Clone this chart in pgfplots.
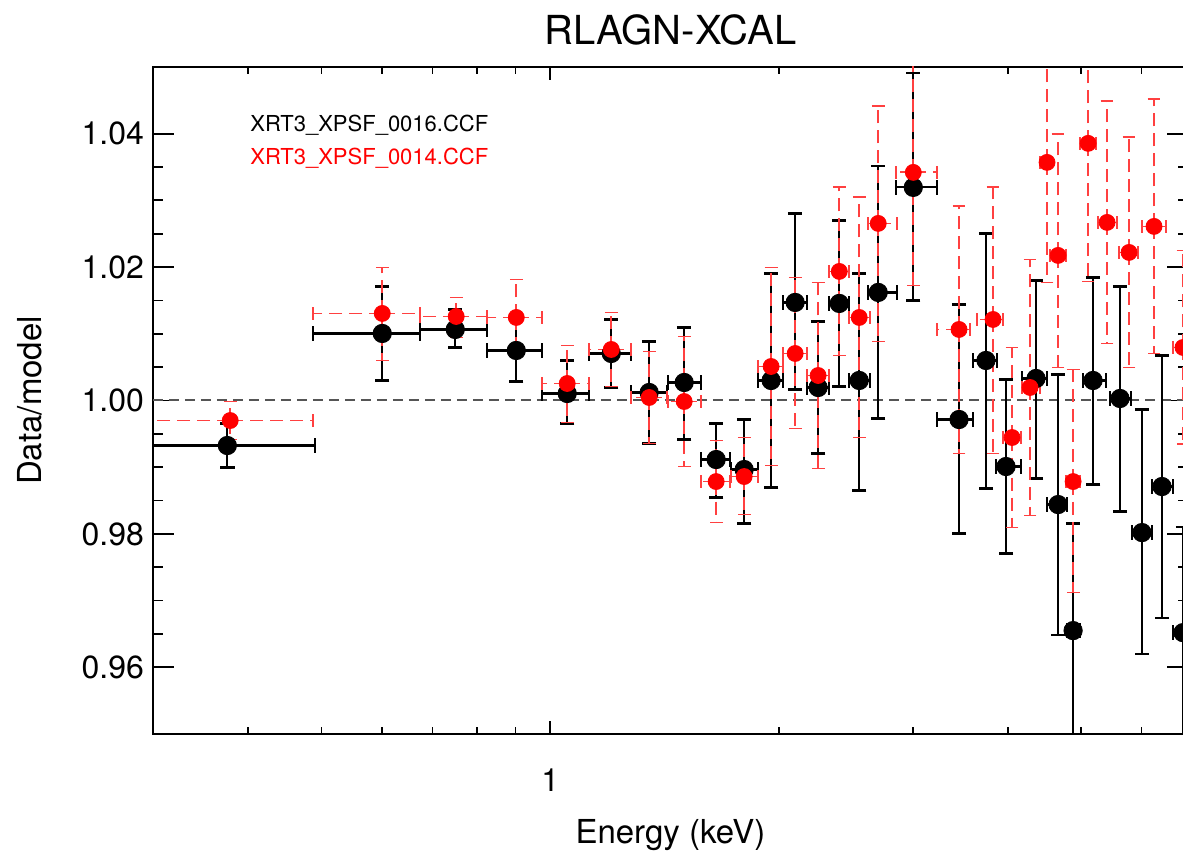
\documentclass[border=0pt]{standalone}
\usepackage{fontspec}
\setmainfont{TeX Gyre Heros}
\usepackage{pgfplots}
\pgfplotsset{compat=1.18}
\usepackage{pgfplotstable}

% columns: energy, ratio, energy bin low/high, ratio low/high
\pgfplotstableread{
x y xlo xhi ylo yhi
0.3758 0.99325 0.28 0.4907 0.98995 0.99655
0.6010 1.01005 0.4878 0.6744 1.0030 1.0171
0.7499 1.01065 0.6744 0.8264 1.00795 1.01365
0.9022 1.0075 0.8264 0.9760 1.00285 1.01215
1.0528 1.00105 0.9760 1.1254 0.99655 1.0060
1.2031 1.00705 1.1254 1.2782 1.00195 1.01215
1.3497 1.0012 1.2782 1.4256 0.99355 1.00885
1.5008 1.0027 1.4299 1.5800 0.99415 1.01095
1.6536 0.99115 1.5800 1.7252 0.98545 0.99655
1.8000 0.98965 1.7304 1.8781 0.98155 0.99715
1.9535 1.0030 1.8781 2.0258 0.98695 1.01905
2.1008 1.0147 2.0258 2.1785 1.00165 1.02805
2.2523 1.00195 2.1785 2.3286 0.99205 1.01185
2.4014 1.01455 2.3286 2.4752 1.0021 1.0270
2.5510 1.0030 2.4752 2.6373 0.9865 1.01905
2.7022 1.0162 2.6214 2.8622 0.9973 1.0351
3.0053 1.03195 2.8535 3.2301 1.0150 1.04905
3.4523 0.99715 3.2301 3.6019 0.98005 1.0144
3.7466 1.0060 3.6019 3.8736 0.9868 1.02505
3.9811 0.9901 3.8619 4.1660 0.97705 1.00315
4.3596 1.0033 4.1786 4.5073 0.9883 1.0180
4.6608 0.9844 4.5073 4.7895 0.9649 1.0039
4.8778 0.9655 4.7895 4.9823 0.9400 0.98155
5.1823 1.0030 5.0278 5.3905 0.9874 1.01845
5.6234 1.0003 5.4562 5.8141 0.98335 1.0171
6.0110 0.9802 5.8318 6.1960 0.96205 0.99865
6.3869 0.9871 6.1960 6.6035 0.96745 1.00675
6.8060 0.9652 6.6035 7.0 0.9500 0.9810
}\newccf

\pgfplotstableread{
x y xlo xhi ylo yhi
0.3792 0.9970 0.28 0.4878 0.99415 0.99985
0.6010 1.01305 0.4878 0.6744 1.0060 1.01995
0.7521 1.0126 0.6744 0.8264 1.00945 1.01545
0.9022 1.01245 0.8264 0.9760 1.00675 1.01815
1.0528 1.00255 0.9760 1.1254 0.9967 1.00825
1.2031 1.00765 1.1254 1.2782 1.0021 1.0132
1.3497 1.00045 1.2782 1.4256 0.99355 1.00735
1.5008 0.99985 1.4299 1.5800 0.9901 1.0096
1.6536 0.98785 1.5800 1.7252 0.9817 0.9940
1.8000 0.9886 1.7304 1.8781 0.9829 0.99445
1.9535 1.0051 1.8781 2.0258 0.99025 1.01995
2.1008 1.00705 2.0258 2.1785 0.9958 1.01845
2.2523 1.00375 2.1785 2.3286 0.9898 1.0177
2.4014 1.01935 2.3286 2.4752 1.00675 1.03195
2.5510 1.01245 2.4752 2.6373 0.99445 1.03045
2.7022 1.02655 2.6214 2.8622 1.00885 1.0441
3.0053 1.0342 2.8535 3.2301 1.01725 1.05115
3.4523 1.01065 3.2301 3.5693 0.99205 1.0291
3.8269 1.01215 3.6458 3.9449 0.99205 1.03195
4.0540 0.99445 3.9449 4.1660 0.98095 1.00795
4.2811 1.00195 4.1786 4.4128 0.98275 1.02115
4.5073 1.0357 4.4128 4.5484 1.0177 1.0540
4.6608 1.02175 4.5484 4.7751 1.00495 1.0399
4.8778 0.98785 4.7751 4.9823 0.9712 1.00465
5.1044 1.03855 4.9823 5.2297 1.01785 1.0590
5.4068 1.0267 5.2614 5.5732 1.00855 1.04485
5.7790 1.0222 5.6071 5.9387 1.00495 1.03945
6.2337 1.0261 6.0110 6.4648 1.00705 1.04515
6.8060 1.00795 6.6035 7.0 0.9935 1.0225
}\oldccf

\definecolor{refgray}{HTML}{555555}

\begin{document}
\begin{tikzpicture}
\begin{axis}[
    scale only axis,
    width=517.5pt, height=333.5pt,
    xmode=log,
    xmin=0.3, xmax=6.91,
    ymin=0.95, ymax=1.05,
    xtick={1}, xticklabels={1},
    minor xtick={0.4,0.5,0.6,0.7,0.8,0.9,2,3,4,5,6},
    ytick={0.96,0.98,1.00,1.02,1.04},
    yticklabels={0.96,0.98,1.00,1.02,1.04},
    minor y tick num=3,
    tick align=inside,
    major tick length=10.5pt, minor tick length=5pt,
    xtick style={/pgfplots/major tick length=6.5pt, /pgfplots/minor tick length=3.5pt},
    every tick/.style={black, line width=0.9pt},
    axis line style={line width=1pt},
    /pgf/number format/assume math mode=true,
    tick label style={font=\fontsize{16}{19}\selectfont},
    xticklabel style={yshift=-14pt},
    yticklabel style={xshift=-1pt},
    title={RLAGN-XCAL},
    every axis title/.style={at={(axis description cs:0.5,1.0555)}, anchor=center,
        font=\fontsize{20}{24}\selectfont},
    xlabel={Energy (keV)},
    ylabel={Data/model},
    every axis x label/.style={at={(axis description cs:0.5,-0.151)}, anchor=center,
        font=\fontsize{16.5}{20}\selectfont},
    every axis y label/.style={at={(axis description cs:-0.119,0.5)}, anchor=center,
        rotate=90, font=\fontsize{16.5}{20}\selectfont},
]

% unity line
\addplot[refgray, line width=1pt, dash pattern=on 5pt off 3pt] coordinates {(0.3,1) (6.91,1)};

% XRT3_XPSF_0016.CCF
\addplot[
    only marks, mark=*, mark size=4.6pt, black,
    error bars/.cd,
        x dir=both, x explicit, y dir=both, y explicit,
        error bar style={black, line width=1.1pt},
        error mark options={rotate=90, mark size=3.6pt, black, line width=1.1pt},
] table[
    x=x, y=y,
    x error plus expr=\thisrow{xhi}-\thisrow{x},
    x error minus expr=\thisrow{x}-\thisrow{xlo},
    y error plus expr=\thisrow{yhi}-\thisrow{y},
    y error minus expr=\thisrow{y}-\thisrow{ylo},
] {\newccf};

% XRT3_XPSF_0014.CCF
\addplot[
    only marks, mark=*, mark size=4pt, red,
    error bars/.cd,
        x dir=both, x explicit, y dir=both, y explicit,
        error bar style={red!75, line width=0.9pt, dash pattern=on 6.5pt off 3.5pt},
        error mark options={rotate=90, mark size=3.2pt, red!75, line width=0.9pt, solid},
] table[
    x=x, y=y,
    x error plus expr=\thisrow{xhi}-\thisrow{x},
    x error minus expr=\thisrow{x}-\thisrow{xlo},
    y error plus expr=\thisrow{yhi}-\thisrow{y},
    y error minus expr=\thisrow{y}-\thisrow{ylo},
] {\oldccf};

\node[anchor=west, inner sep=0pt, font=\fontsize{11}{13}\selectfont, black]
    at (axis description cs:0.0937,0.913) {XRT3\_XPSF\_0016.CCF};
\node[anchor=west, inner sep=0pt, font=\fontsize{11}{13}\selectfont, red]
    at (axis description cs:0.0937,0.8636) {XRT3\_XPSF\_0014.CCF};

\coordinate (sw) at (rel axis cs:0,0);
\coordinate (ne) at (rel axis cs:1,1);
\end{axis}
\pgfresetboundingbox
\path[use as bounding box] ([shift={(-76.5pt,-61pt)}]sw) rectangle ([shift={(-2.5pt,33.5pt)}]ne);
\end{tikzpicture}
\end{document}
